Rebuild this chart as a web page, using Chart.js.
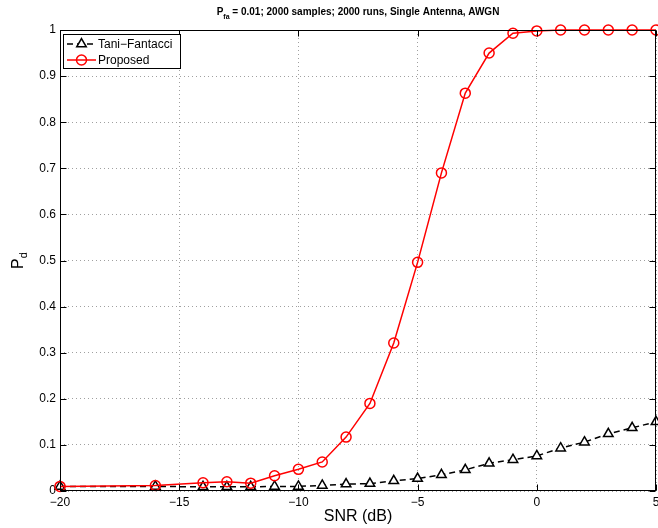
<!DOCTYPE html>
<html>
<head>
<meta charset="utf-8">
<script src="https://cdn.jsdelivr.net/npm/chart.js@4"></script>
<style>
  html, body { margin: 0; padding: 0; background: #fff; }
  #wrap { width: 658px; height: 528px; }
</style>
</head>
<body>
<div id="wrap"><canvas id="pdChart" width="658" height="528"></canvas></div>
<script>
// Detection probability vs SNR

var snr = [-20, -16, -14, -13, -12, -11, -10, -9, -8, -7, -6, -5, -4, -3, -2, -1, 0, 1, 2, 3, 4, 5];
var pdTani = [0.010, 0.010, 0.009, 0.009, 0.009, 0.010, 0.010, 0.012, 0.015, 0.016, 0.022, 0.027, 0.035, 0.046, 0.060, 0.068, 0.076, 0.093, 0.106, 0.124, 0.137, 0.150];
var pdProposed = [0.010, 0.012, 0.018, 0.020, 0.017, 0.033, 0.047, 0.063, 0.117, 0.190, 0.321, 0.496, 0.690, 0.863, 0.950, 0.993, 0.998, 1.0, 1.0, 1.0, 1.0, 1.0];
var seriesNames = ['Tani\u2212Fantacci', 'Proposed'];
var xTicks = [-20, -15, -10, -5, 0, 5];

var FONT = '"Liberation Sans", Arial, Helvetica, sans-serif';
Chart.defaults.font.family = FONT;
Chart.defaults.color = '#000';

function toPoints(xs, ys) {
    return xs.map(function (v, i) { return { x: v, y: ys[i] }; });
}

// box, inward ticks, titles and legend (MATLAB style)
var matlabFrame = {
    id: 'matlabFrame',
    afterDatasetsDraw: function (chart) {
        var ctx = chart.ctx;
        var a = chart.chartArea;
        var xs = chart.scales.x, ys = chart.scales.y;
        var L = Math.round(a.left) + 0.5, R = Math.round(a.right) - 0.5;
        var T = Math.round(a.top) + 0.5, B = Math.round(a.bottom) - 0.5;
        ctx.save();
        ctx.strokeStyle = '#000';
        ctx.lineWidth = 1;
        ctx.beginPath();
        xs.ticks.forEach(function (t) {
            var px = Math.round(xs.getPixelForValue(t.value)) + 0.5;
            ctx.moveTo(px, B); ctx.lineTo(px, B - 6);
            ctx.moveTo(px, T); ctx.lineTo(px, T + 6);
        });
        ys.ticks.forEach(function (t) {
            var py = Math.round(ys.getPixelForValue(t.value)) + 0.5;
            ctx.moveTo(L, py); ctx.lineTo(L + 6, py);
            ctx.moveTo(R, py); ctx.lineTo(R - 6, py);
        });
        ctx.stroke();
        ctx.strokeRect(L, T, R - L, B - T);
        ctx.restore();
    },
    afterDraw: function (chart) {
        var ctx = chart.ctx;
        var a = chart.chartArea;
        var cx = (a.left + a.right) / 2;
        ctx.save();
        ctx.fillStyle = '#000';

        // title with subscript
        var main = ' = 0.01; 2000 samples; 2000 runs, Single Antenna, AWGN';
        ctx.font = 'bold 10px ' + FONT;
        var wP = ctx.measureText('P').width, wMain = ctx.measureText(main).width;
        ctx.font = 'bold 7px ' + FONT;
        var wSub = ctx.measureText('fa').width;
        var x0 = cx - (wP + wSub + wMain) / 2;
        ctx.textBaseline = 'alphabetic';
        ctx.textAlign = 'left';
        ctx.font = 'bold 10px ' + FONT;
        ctx.fillText('P', x0, 15);
        ctx.font = 'bold 7px ' + FONT;
        ctx.fillText('fa', x0 + wP, 19);
        ctx.font = 'bold 10px ' + FONT;
        ctx.fillText(main, x0 + wP + wSub, 15);

        // x label
        ctx.font = '16px ' + FONT;
        ctx.textAlign = 'center';
        ctx.fillText('SNR (dB)', cx, 521);

        // y label P_d rotated
        ctx.translate(23, (a.top + a.bottom) / 2);
        ctx.rotate(-Math.PI / 2);
        ctx.font = '16px ' + FONT;
        var wPd = ctx.measureText('P').width;
        ctx.font = '11px ' + FONT;
        var wd = ctx.measureText('d').width;
        ctx.textAlign = 'left';
        ctx.font = '16px ' + FONT;
        ctx.fillText('P', -(wPd + wd) / 2, 0);
        ctx.font = '11px ' + FONT;
        ctx.fillText('d', -(wPd + wd) / 2 + wPd, 4);
        ctx.setTransform(1, 0, 0, 1, 0, 0);

        // legend
        var bx = 63.5, by = 34.5, bw = 117, bh = 34;
        ctx.fillStyle = '#fff';
        ctx.fillRect(bx, by, bw, bh);
        ctx.strokeStyle = '#000';
        ctx.lineWidth = 1;
        ctx.strokeRect(bx, by, bw, bh);
        var rows = [44, 60];
        chart.data.datasets.forEach(function (ds, i) {
            var yy = rows[i];
            ctx.save();
            ctx.strokeStyle = ds.borderColor;
            ctx.lineWidth = ds.borderWidth;
            ctx.setLineDash(ds.borderDash || []);
            ctx.beginPath();
            ctx.moveTo(67, yy); ctx.lineTo(96, yy);
            ctx.stroke();
            ctx.setLineDash([]);
            ctx.fillStyle = ds.pointBackgroundColor;
            ctx.strokeStyle = ds.pointBorderColor;
            ctx.lineWidth = ds.pointBorderWidth;
            Chart.helpers.drawPoint(ctx, {
                pointStyle: ds.pointStyle, radius: ds.pointRadius,
                borderWidth: ds.pointBorderWidth, rotation: 0
            }, 81.5, yy);
            ctx.restore();
            ctx.fillStyle = '#000';
            ctx.font = '12px ' + FONT;
            ctx.textAlign = 'left';
            ctx.textBaseline = 'middle';
            ctx.fillText(ds.label, 98, yy + 1);
        });
        ctx.restore();
    }
};

var ctx = document.getElementById('pdChart').getContext('2d');
var pdChart = new Chart(ctx, {
    type: 'line',
    data: {
        datasets: [{
            label: seriesNames[0],
            data: toPoints(snr, pdTani),
            borderColor: '#000',
            borderWidth: 1.5,
            borderDash: [6, 4],
            pointStyle: 'triangle',
            pointRadius: 5.5,
            pointBorderWidth: 1.5,
            pointBorderColor: '#000',
            pointBackgroundColor: '#fff',
            fill: false,
            tension: 0,
            clip: false,
            order: 1
        }, {
            label: seriesNames[1],
            data: toPoints(snr, pdProposed),
            borderColor: '#ff0000',
            borderWidth: 1.5,
            pointStyle: 'circle',
            pointRadius: 5,
            pointBorderWidth: 1.5,
            pointBorderColor: '#ff0000',
            pointBackgroundColor: 'rgba(255,255,255,0)',
            fill: false,
            tension: 0,
            clip: false,
            order: 0
        }]
    },
    options: {
        responsive: false,
        animation: false,
        events: [],
        layout: { autoPadding: false, padding: { top: 30, right: 2, left: 0, bottom: 0 } },
        plugins: {
            legend: { display: false },
            tooltip: { enabled: false }
        },
        scales: {
            x: {
                type: 'linear',
                min: -20,
                max: 5,
                afterFit: function (s) { s.height = 37; s.paddingLeft = 0; s.paddingRight = 0; },
                afterBuildTicks: function (s) { s.ticks = xTicks.map(function (v) { return { value: v }; }); },
                ticks: {
                    padding: 4,
                    maxRotation: 0,
                    font: { size: 12 },
                    color: '#000',
                    callback: function (v) { return String(v).replace('-', '\u2212'); }
                },
                grid: { color: '#a0a0a0', lineWidth: 1, drawTicks: false },
                border: { display: false, dash: [1, 3] }
            },
            y: {
                min: 0,
                max: 1,
                afterFit: function (s) { s.width = 60; s.paddingTop = 0; s.paddingBottom = 0; },
                ticks: {
                    stepSize: 0.1,
                    padding: 4,
                    font: { size: 12 },
                    color: '#000',
                    callback: function (v) {
                        if (v === 0) return '0';
                        if (Math.abs(v - 1) < 1e-9) return '1';
                        return v.toFixed(1);
                    }
                },
                grid: { color: '#a0a0a0', lineWidth: 1, drawTicks: false },
                border: { display: false, dash: [1, 3] }
            }
        }
    },
    plugins: [matlabFrame]
});
</script>
</body>
</html>
